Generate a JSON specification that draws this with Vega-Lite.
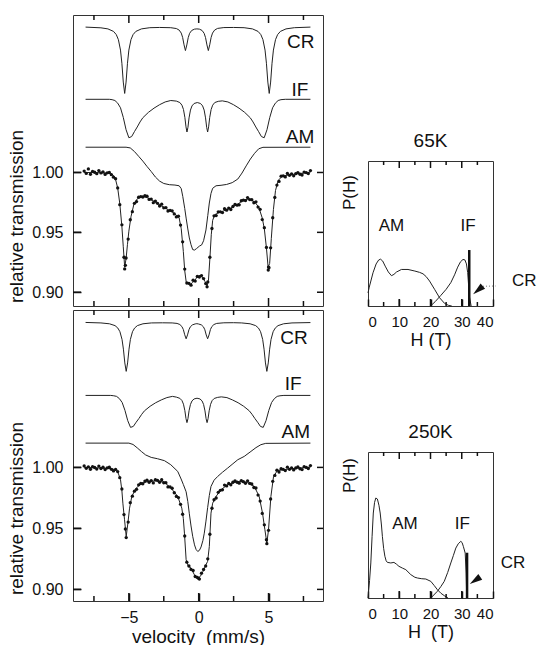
{
  "$schema": "https://vega.github.io/schema/vega-lite/v6.json",
  "padding": {"left": 7, "top": 13, "right": 0, "bottom": 0},
  "config": {
    "font": "Liberation Sans",
    "view": {"stroke": "#333", "strokeWidth": 1},
    "axis": {"grid": false, "domain": false, "ticks": true, "labelFontSize": 16, "titleFontSize": 19, "titleFontWeight": "normal", "labelColor": "#111", "titleColor": "#111", "tickColor": "#111", "tickOpacity": 1, "tickWidth": 1.5, "zindex": 1},
    "rule": {"color": "#111", "strokeWidth": 1.5},
    "title": {"fontSize": 19, "fontWeight": "normal", "color": "#111"}
  },
  "datasets": {
    "xmaj": [{"v":-5},{"v":0},{"v":5}],
    "xmin": [{"v":-7.5},{"v":-2.5},{"v":2.5},{"v":7.5}],
    "yt": [{"v":0.9},{"v":0.95},{"v":1.0}],
    "hmaj": [{"v":10},{"v":20},{"v":30}],
    "hmin": [{"v":5},{"v":15},{"v":25},{"v":35}],
    "c65": [
      {"k":"CR","x":-8.1,"y":1.1214},{"k":"CR","x":-7.0,"y":1.1208},{"k":"CR","x":-6.5,"y":1.1199},{"k":"CR","x":-6.1,"y":1.1178},{"k":"CR","x":-5.9,"y":1.1151},{"k":"CR","x":-5.75,"y":1.1109},{"k":"CR","x":-5.6,"y":1.1022},{"k":"CR","x":-5.5,"y":1.0912},{"k":"CR","x":-5.4,"y":1.0755},{"k":"CR","x":-5.3,"y":1.066},{"k":"CR","x":-5.2,"y":1.0755},{"k":"CR","x":-5.1,"y":1.0912},{"k":"CR","x":-5.0,"y":1.1022},{"k":"CR","x":-4.85,"y":1.1109},{"k":"CR","x":-4.7,"y":1.1151},{"k":"CR","x":-4.5,"y":1.1178},{"k":"CR","x":-4.1,"y":1.1199},{"k":"CR","x":-3.5,"y":1.1209},{"k":"CR","x":-2.8,"y":1.1211},{"k":"CR","x":-2.0,"y":1.1209},{"k":"CR","x":-1.6,"y":1.1202},{"k":"CR","x":-1.4,"y":1.1189},{"k":"CR","x":-1.25,"y":1.1164},{"k":"CR","x":-1.15,"y":1.1128},{"k":"CR","x":-1.05,"y":1.1066},{"k":"CR","x":-0.95,"y":1.1018},{"k":"CR","x":-0.85,"y":1.1065},{"k":"CR","x":-0.75,"y":1.1126},{"k":"CR","x":-0.65,"y":1.1162},{"k":"CR","x":-0.5,"y":1.1186},{"k":"CR","x":-0.3,"y":1.1197},{"k":"CR","x":-0.13,"y":1.1199},{"k":"CR","x":0.05,"y":1.1197},{"k":"CR","x":0.24,"y":1.1186},{"k":"CR","x":0.39,"y":1.1162},{"k":"CR","x":0.49,"y":1.1126},{"k":"CR","x":0.59,"y":1.1065},{"k":"CR","x":0.69,"y":1.1018},{"k":"CR","x":0.79,"y":1.1066},{"k":"CR","x":0.89,"y":1.1128},{"k":"CR","x":0.99,"y":1.1164},{"k":"CR","x":1.14,"y":1.1189},{"k":"CR","x":1.35,"y":1.1203},{"k":"CR","x":1.8,"y":1.121},{"k":"CR","x":2.5,"y":1.1211},{"k":"CR","x":3.25,"y":1.1209},{"k":"CR","x":3.85,"y":1.1199},{"k":"CR","x":4.25,"y":1.1178},{"k":"CR","x":4.45,"y":1.1151},{"k":"CR","x":4.6,"y":1.1109},{"k":"CR","x":4.75,"y":1.1022},{"k":"CR","x":4.85,"y":1.0912},{"k":"CR","x":4.95,"y":1.0755},{"k":"CR","x":5.05,"y":1.066},{"k":"CR","x":5.15,"y":1.0755},{"k":"CR","x":5.25,"y":1.0912},{"k":"CR","x":5.35,"y":1.1022},{"k":"CR","x":5.5,"y":1.1109},{"k":"CR","x":5.65,"y":1.1151},{"k":"CR","x":5.85,"y":1.1178},{"k":"CR","x":6.25,"y":1.1199},{"k":"CR","x":6.85,"y":1.1209},{"k":"CR","x":8.0,"y":1.1214},
      {"k":"IF","x":-8.1,"y":1.0611},{"k":"IF","x":-6.4,"y":1.0611},{"k":"IF","x":-6.2,"y":1.0608},{"k":"IF","x":-6.0,"y":1.0601},{"k":"IF","x":-5.8,"y":1.0579},{"k":"IF","x":-5.6,"y":1.054},{"k":"IF","x":-5.4,"y":1.046},{"k":"IF","x":-5.2,"y":1.0357},{"k":"IF","x":-5.0,"y":1.029},{"k":"IF","x":-4.8,"y":1.03},{"k":"IF","x":-4.6,"y":1.0341},{"k":"IF","x":-4.4,"y":1.038},{"k":"IF","x":-4.2,"y":1.0422},{"k":"IF","x":-4.0,"y":1.0457},{"k":"IF","x":-3.6,"y":1.0502},{"k":"IF","x":-3.2,"y":1.0537},{"k":"IF","x":-2.8,"y":1.0566},{"k":"IF","x":-2.4,"y":1.0589},{"k":"IF","x":-2.0,"y":1.0601},{"k":"IF","x":-1.6,"y":1.0596},{"k":"IF","x":-1.35,"y":1.0584},{"k":"IF","x":-1.2,"y":1.0562},{"k":"IF","x":-1.09,"y":1.0526},{"k":"IF","x":-0.99,"y":1.046},{"k":"IF","x":-0.91,"y":1.0381},{"k":"IF","x":-0.84,"y":1.0338},{"k":"IF","x":-0.77,"y":1.0377},{"k":"IF","x":-0.69,"y":1.0456},{"k":"IF","x":-0.59,"y":1.0521},{"k":"IF","x":-0.48,"y":1.0556},{"k":"IF","x":-0.33,"y":1.0576},{"k":"IF","x":-0.1,"y":1.0584},{"k":"IF","x":0.13,"y":1.0576},{"k":"IF","x":0.28,"y":1.0556},{"k":"IF","x":0.39,"y":1.0521},{"k":"IF","x":0.49,"y":1.0456},{"k":"IF","x":0.57,"y":1.0377},{"k":"IF","x":0.64,"y":1.0338},{"k":"IF","x":0.71,"y":1.0381},{"k":"IF","x":0.79,"y":1.046},{"k":"IF","x":0.89,"y":1.0526},{"k":"IF","x":1.0,"y":1.0562},{"k":"IF","x":1.15,"y":1.0584},{"k":"IF","x":1.4,"y":1.0594},{"k":"IF","x":1.69,"y":1.0598},{"k":"IF","x":2.09,"y":1.0589},{"k":"IF","x":2.49,"y":1.0566},{"k":"IF","x":2.89,"y":1.0537},{"k":"IF","x":3.29,"y":1.0502},{"k":"IF","x":3.69,"y":1.0457},{"k":"IF","x":3.89,"y":1.0422},{"k":"IF","x":4.09,"y":1.038},{"k":"IF","x":4.29,"y":1.0341},{"k":"IF","x":4.49,"y":1.03},{"k":"IF","x":4.69,"y":1.029},{"k":"IF","x":4.89,"y":1.0357},{"k":"IF","x":5.09,"y":1.046},{"k":"IF","x":5.29,"y":1.054},{"k":"IF","x":5.49,"y":1.0579},{"k":"IF","x":5.69,"y":1.0601},{"k":"IF","x":5.89,"y":1.0608},{"k":"IF","x":6.2,"y":1.0611},{"k":"IF","x":8.0,"y":1.0611},
      {"k":"AM","x":-8.1,"y":1.0211},{"k":"AM","x":-5.2,"y":1.0211},{"k":"AM","x":-4.9,"y":1.0205},{"k":"AM","x":-4.6,"y":1.0175},{"k":"AM","x":-4.3,"y":1.0135},{"k":"AM","x":-4.0,"y":1.0095},{"k":"AM","x":-3.7,"y":1.005},{"k":"AM","x":-3.4,"y":1.0008},{"k":"AM","x":-3.1,"y":0.9962},{"k":"AM","x":-2.8,"y":0.9928},{"k":"AM","x":-2.5,"y":0.9908},{"k":"AM","x":-2.1,"y":0.9898},{"k":"AM","x":-1.7,"y":0.9895},{"k":"AM","x":-1.4,"y":0.9889},{"k":"AM","x":-1.25,"y":0.9865},{"k":"AM","x":-1.14,"y":0.98},{"k":"AM","x":-1.0,"y":0.97},{"k":"AM","x":-0.9,"y":0.9619},{"k":"AM","x":-0.79,"y":0.9536},{"k":"AM","x":-0.67,"y":0.9453},{"k":"AM","x":-0.55,"y":0.9397},{"k":"AM","x":-0.43,"y":0.9356},{"k":"AM","x":-0.3,"y":0.9352},{"k":"AM","x":-0.15,"y":0.9365},{"k":"AM","x":0.05,"y":0.9385},{"k":"AM","x":0.21,"y":0.9395},{"k":"AM","x":0.35,"y":0.943},{"k":"AM","x":0.52,"y":0.952},{"k":"AM","x":0.65,"y":0.964},{"k":"AM","x":0.76,"y":0.9745},{"k":"AM","x":0.88,"y":0.9825},{"k":"AM","x":1.0,"y":0.9868},{"k":"AM","x":1.24,"y":0.9889},{"k":"AM","x":1.6,"y":0.9893},{"k":"AM","x":2.0,"y":0.99},{"k":"AM","x":2.4,"y":0.9915},{"k":"AM","x":2.8,"y":0.9945},{"k":"AM","x":3.1,"y":0.9995},{"k":"AM","x":3.4,"y":1.0055},{"k":"AM","x":3.7,"y":1.0112},{"k":"AM","x":4.0,"y":1.016},{"k":"AM","x":4.3,"y":1.0198},{"k":"AM","x":4.6,"y":1.021},{"k":"AM","x":8.0,"y":1.0211}
    ],
    "f65": [
      {"x":-8.2,"y":1.0},{"x":-7.0,"y":0.9998},{"x":-6.6,"y":0.9995},{"x":-6.3,"y":0.9992},{"x":-6.1,"y":0.9975},{"x":-5.95,"y":0.994},{"x":-5.8,"y":0.987},{"x":-5.65,"y":0.974},{"x":-5.5,"y":0.955},{"x":-5.4,"y":0.938},{"x":-5.3,"y":0.921},{"x":-5.2,"y":0.928},{"x":-5.1,"y":0.94},{"x":-5.0,"y":0.951},{"x":-4.85,"y":0.963},{"x":-4.65,"y":0.973},{"x":-4.4,"y":0.978},{"x":-4.0,"y":0.98},{"x":-3.6,"y":0.9786},{"x":-3.2,"y":0.976},{"x":-2.7,"y":0.9722},{"x":-2.2,"y":0.969},{"x":-1.75,"y":0.966},{"x":-1.4,"y":0.962},{"x":-1.25,"y":0.953},{"x":-1.1,"y":0.934},{"x":-1.0,"y":0.918},{"x":-0.9,"y":0.909},{"x":-0.75,"y":0.907},{"x":-0.6,"y":0.9065},{"x":-0.45,"y":0.908},{"x":-0.3,"y":0.9095},{"x":-0.1,"y":0.913},{"x":0.1,"y":0.914},{"x":0.3,"y":0.912},{"x":0.45,"y":0.909},{"x":0.6,"y":0.905},{"x":0.7,"y":0.91},{"x":0.8,"y":0.928},{"x":0.9,"y":0.948},{"x":1.0,"y":0.96},{"x":1.15,"y":0.9648},{"x":1.4,"y":0.9662},{"x":1.8,"y":0.968},{"x":2.3,"y":0.9703},{"x":2.8,"y":0.9736},{"x":3.25,"y":0.9772},{"x":3.6,"y":0.9778},{"x":4.0,"y":0.9755},{"x":4.3,"y":0.971},{"x":4.55,"y":0.962},{"x":4.7,"y":0.953},{"x":4.85,"y":0.937},{"x":4.97,"y":0.921},{"x":5.08,"y":0.924},{"x":5.2,"y":0.945},{"x":5.35,"y":0.969},{"x":5.5,"y":0.985},{"x":5.7,"y":0.9935},{"x":6.0,"y":0.997},{"x":6.5,"y":0.998},{"x":7.0,"y":0.9988},{"x":7.5,"y":0.9995},{"x":8.0,"y":1.0003}
    ],
    "o65": [
      {"x":-8.2,"y":1.0012},{"x":-8.05,"y":0.9992},{"x":-7.9,"y":1.003},{"x":-7.75,"y":0.9985},{"x":-7.6,"y":1.0009},{"x":-7.45,"y":1.0002},{"x":-7.3,"y":0.999},{"x":-7.15,"y":1.0016},{"x":-7.0,"y":0.9996},{"x":-6.85,"y":1.0005},{"x":-6.7,"y":0.9984},{"x":-6.55,"y":0.9997},{"x":-6.4,"y":1.0},{"x":-6.25,"y":0.9982},{"x":-6.1,"y":0.9961},{"x":-5.95,"y":0.9948},{"x":-5.8,"y":0.9871},{"x":-5.65,"y":0.9731},{"x":-5.5,"y":0.9563},{"x":-5.35,"y":0.9292},{"x":-5.3,"y":0.9195},{"x":-5.25,"y":0.9225},{"x":-5.2,"y":0.9286},{"x":-5.05,"y":0.9444},{"x":-4.9,"y":0.9605},{"x":-4.75,"y":0.9673},{"x":-4.6,"y":0.9742},{"x":-4.45,"y":0.9757},{"x":-4.3,"y":0.9794},{"x":-4.15,"y":0.9799},{"x":-4.0,"y":0.9795},{"x":-3.85,"y":0.9806},{"x":-3.7,"y":0.9802},{"x":-3.55,"y":0.9775},{"x":-3.4,"y":0.9778},{"x":-3.25,"y":0.9748},{"x":-3.1,"y":0.9761},{"x":-2.95,"y":0.9742},{"x":-2.8,"y":0.972},{"x":-2.65,"y":0.9735},{"x":-2.5,"y":0.9705},{"x":-2.35,"y":0.9707},{"x":-2.2,"y":0.9678},{"x":-2.05,"y":0.9683},{"x":-1.9,"y":0.968},{"x":-1.75,"y":0.9654},{"x":-1.6,"y":0.9629},{"x":-1.45,"y":0.9635},{"x":-1.3,"y":0.9561},{"x":-1.15,"y":0.9421},{"x":-1.0,"y":0.9193},{"x":-0.85,"y":0.9077},{"x":-0.7,"y":0.9074},{"x":-0.55,"y":0.9059},{"x":-0.4,"y":0.91},{"x":-0.25,"y":0.9093},{"x":-0.1,"y":0.9132},{"x":0.05,"y":0.9127},{"x":0.2,"y":0.9139},{"x":0.35,"y":0.9114},{"x":0.5,"y":0.9072},{"x":0.6,"y":0.9045},{"x":0.65,"y":0.9086},{"x":0.8,"y":0.9292},{"x":0.95,"y":0.9532},{"x":1.1,"y":0.9638},{"x":1.25,"y":0.964},{"x":1.4,"y":0.9671},{"x":1.55,"y":0.9671},{"x":1.7,"y":0.9665},{"x":1.85,"y":0.9698},{"x":2.0,"y":0.9685},{"x":2.15,"y":0.9703},{"x":2.3,"y":0.9691},{"x":2.45,"y":0.9716},{"x":2.6,"y":0.9733},{"x":2.75,"y":0.9727},{"x":2.9,"y":0.973},{"x":3.05,"y":0.9764},{"x":3.2,"y":0.9769},{"x":3.35,"y":0.9765},{"x":3.5,"y":0.979},{"x":3.65,"y":0.9774},{"x":3.8,"y":0.9773},{"x":3.95,"y":0.9747},{"x":4.1,"y":0.9755},{"x":4.25,"y":0.9711},{"x":4.4,"y":0.9692},{"x":4.55,"y":0.9607},{"x":4.7,"y":0.9539},{"x":4.85,"y":0.9374},{"x":4.98,"y":0.9185},{"x":5.0,"y":0.921},{"x":5.03,"y":0.9205},{"x":5.15,"y":0.9371},{"x":5.3,"y":0.9622},{"x":5.45,"y":0.9792},{"x":5.6,"y":0.9895},{"x":5.75,"y":0.9925},{"x":5.9,"y":0.9969},{"x":6.05,"y":0.9972},{"x":6.2,"y":0.9963},{"x":6.35,"y":0.9992},{"x":6.5,"y":0.9976},{"x":6.65,"y":0.9989},{"x":6.8,"y":0.9972},{"x":6.95,"y":0.999},{"x":7.1,"y":0.9999},{"x":7.25,"y":0.9985},{"x":7.4,"y":0.9979},{"x":7.55,"y":1.0003},{"x":7.7,"y":0.9999},{"x":7.85,"y":0.9991},{"x":8.0,"y":1.0016}
    ],
    "t65": [
      {"t":"CR","x":7.3,"y":1.109},{"t":"IF","x":7.25,"y":1.069},{"t":"AM","x":7.25,"y":1.03}
    ],
    "c250": [
      {"k":"CR","x":-8.1,"y":1.1188},{"k":"CR","x":-7.0,"y":1.1184},{"k":"CR","x":-6.39,"y":1.1177},{"k":"CR","x":-5.99,"y":1.1162},{"k":"CR","x":-5.79,"y":1.1142},{"k":"CR","x":-5.64,"y":1.1112},{"k":"CR","x":-5.49,"y":1.1049},{"k":"CR","x":-5.39,"y":1.0969},{"k":"CR","x":-5.29,"y":1.0856},{"k":"CR","x":-5.19,"y":1.0787},{"k":"CR","x":-5.09,"y":1.0856},{"k":"CR","x":-4.99,"y":1.0969},{"k":"CR","x":-4.89,"y":1.1049},{"k":"CR","x":-4.74,"y":1.1112},{"k":"CR","x":-4.59,"y":1.1142},{"k":"CR","x":-4.39,"y":1.1162},{"k":"CR","x":-3.99,"y":1.1177},{"k":"CR","x":-3.39,"y":1.1184},{"k":"CR","x":-2.6,"y":1.1185},{"k":"CR","x":-1.9,"y":1.1184},{"k":"CR","x":-1.55,"y":1.118},{"k":"CR","x":-1.35,"y":1.1171},{"k":"CR","x":-1.2,"y":1.1154},{"k":"CR","x":-1.1,"y":1.113},{"k":"CR","x":-1.0,"y":1.1087},{"k":"CR","x":-0.9,"y":1.1054},{"k":"CR","x":-0.8,"y":1.1086},{"k":"CR","x":-0.7,"y":1.1128},{"k":"CR","x":-0.6,"y":1.1152},{"k":"CR","x":-0.45,"y":1.1168},{"k":"CR","x":-0.25,"y":1.1176},{"k":"CR","x":-0.13,"y":1.1178},{"k":"CR","x":0.0,"y":1.1175},{"k":"CR","x":0.19,"y":1.1168},{"k":"CR","x":0.34,"y":1.1152},{"k":"CR","x":0.44,"y":1.1128},{"k":"CR","x":0.54,"y":1.1085},{"k":"CR","x":0.64,"y":1.1054},{"k":"CR","x":0.74,"y":1.1086},{"k":"CR","x":0.84,"y":1.113},{"k":"CR","x":0.94,"y":1.1154},{"k":"CR","x":1.09,"y":1.1171},{"k":"CR","x":1.29,"y":1.118},{"k":"CR","x":1.8,"y":1.1185},{"k":"CR","x":2.5,"y":1.1186},{"k":"CR","x":3.08,"y":1.1184},{"k":"CR","x":3.68,"y":1.1177},{"k":"CR","x":4.08,"y":1.1162},{"k":"CR","x":4.28,"y":1.1142},{"k":"CR","x":4.43,"y":1.1112},{"k":"CR","x":4.58,"y":1.1049},{"k":"CR","x":4.68,"y":1.0969},{"k":"CR","x":4.78,"y":1.0856},{"k":"CR","x":4.88,"y":1.0787},{"k":"CR","x":4.98,"y":1.0856},{"k":"CR","x":5.08,"y":1.0969},{"k":"CR","x":5.18,"y":1.1049},{"k":"CR","x":5.33,"y":1.1112},{"k":"CR","x":5.48,"y":1.1142},{"k":"CR","x":5.68,"y":1.1162},{"k":"CR","x":6.08,"y":1.1177},{"k":"CR","x":6.68,"y":1.1184},{"k":"CR","x":8.0,"y":1.1187},
      {"k":"IF","x":-8.1,"y":1.059},{"k":"IF","x":-6.3,"y":1.059},{"k":"IF","x":-6.08,"y":1.0587},{"k":"IF","x":-5.88,"y":1.0582},{"k":"IF","x":-5.68,"y":1.0564},{"k":"IF","x":-5.48,"y":1.0532},{"k":"IF","x":-5.28,"y":1.0467},{"k":"IF","x":-5.08,"y":1.0383},{"k":"IF","x":-4.88,"y":1.0328},{"k":"IF","x":-4.68,"y":1.0336},{"k":"IF","x":-4.48,"y":1.037},{"k":"IF","x":-4.28,"y":1.0401},{"k":"IF","x":-4.08,"y":1.0435},{"k":"IF","x":-3.88,"y":1.0464},{"k":"IF","x":-3.48,"y":1.0501},{"k":"IF","x":-3.08,"y":1.053},{"k":"IF","x":-2.68,"y":1.0553},{"k":"IF","x":-2.28,"y":1.0572},{"k":"IF","x":-1.88,"y":1.0582},{"k":"IF","x":-1.6,"y":1.0576},{"k":"IF","x":-1.35,"y":1.0566},{"k":"IF","x":-1.2,"y":1.0548},{"k":"IF","x":-1.09,"y":1.0518},{"k":"IF","x":-0.99,"y":1.0465},{"k":"IF","x":-0.91,"y":1.04},{"k":"IF","x":-0.84,"y":1.0367},{"k":"IF","x":-0.77,"y":1.0399},{"k":"IF","x":-0.69,"y":1.0464},{"k":"IF","x":-0.59,"y":1.0516},{"k":"IF","x":-0.48,"y":1.0545},{"k":"IF","x":-0.33,"y":1.0561},{"k":"IF","x":-0.12,"y":1.0567},{"k":"IF","x":0.09,"y":1.0561},{"k":"IF","x":0.24,"y":1.0545},{"k":"IF","x":0.35,"y":1.0516},{"k":"IF","x":0.45,"y":1.0463},{"k":"IF","x":0.53,"y":1.0399},{"k":"IF","x":0.6,"y":1.0367},{"k":"IF","x":0.67,"y":1.0399},{"k":"IF","x":0.75,"y":1.0464},{"k":"IF","x":0.85,"y":1.0517},{"k":"IF","x":0.96,"y":1.0547},{"k":"IF","x":1.11,"y":1.0565},{"k":"IF","x":1.36,"y":1.0574},{"k":"IF","x":1.62,"y":1.0578},{"k":"IF","x":2.02,"y":1.0572},{"k":"IF","x":2.42,"y":1.0553},{"k":"IF","x":2.82,"y":1.053},{"k":"IF","x":3.22,"y":1.0501},{"k":"IF","x":3.62,"y":1.0464},{"k":"IF","x":3.82,"y":1.0435},{"k":"IF","x":4.02,"y":1.0401},{"k":"IF","x":4.22,"y":1.037},{"k":"IF","x":4.42,"y":1.0336},{"k":"IF","x":4.62,"y":1.0328},{"k":"IF","x":4.82,"y":1.0383},{"k":"IF","x":5.02,"y":1.0467},{"k":"IF","x":5.22,"y":1.0532},{"k":"IF","x":5.42,"y":1.0564},{"k":"IF","x":5.62,"y":1.0582},{"k":"IF","x":5.82,"y":1.0587},{"k":"IF","x":6.1,"y":1.059},{"k":"IF","x":8.0,"y":1.059},
      {"k":"AM","x":-8.1,"y":1.0199},{"k":"AM","x":-5.0,"y":1.0199},{"k":"AM","x":-4.7,"y":1.0188},{"k":"AM","x":-4.4,"y":1.016},{"k":"AM","x":-4.1,"y":1.013},{"k":"AM","x":-3.8,"y":1.0102},{"k":"AM","x":-3.4,"y":1.0082},{"k":"AM","x":-2.95,"y":1.0071},{"k":"AM","x":-2.45,"y":1.0055},{"k":"AM","x":-2.0,"y":1.0022},{"k":"AM","x":-1.5,"y":0.9967},{"k":"AM","x":-1.26,"y":0.9905},{"k":"AM","x":-1.1,"y":0.986},{"k":"AM","x":-0.9,"y":0.98},{"k":"AM","x":-0.78,"y":0.972},{"k":"AM","x":-0.67,"y":0.962},{"k":"AM","x":-0.55,"y":0.952},{"k":"AM","x":-0.43,"y":0.9435},{"k":"AM","x":-0.3,"y":0.9365},{"k":"AM","x":-0.19,"y":0.9328},{"k":"AM","x":-0.07,"y":0.9311},{"k":"AM","x":0.05,"y":0.932},{"k":"AM","x":0.17,"y":0.9348},{"k":"AM","x":0.3,"y":0.94},{"k":"AM","x":0.4,"y":0.9461},{"k":"AM","x":0.52,"y":0.956},{"k":"AM","x":0.64,"y":0.967},{"k":"AM","x":0.76,"y":0.977},{"k":"AM","x":0.88,"y":0.9844},{"k":"AM","x":1.1,"y":0.9895},{"k":"AM","x":1.36,"y":0.9926},{"k":"AM","x":1.7,"y":0.996},{"k":"AM","x":2.07,"y":0.9994},{"k":"AM","x":2.45,"y":1.003},{"k":"AM","x":2.8,"y":1.0063},{"k":"AM","x":3.26,"y":1.009},{"k":"AM","x":3.74,"y":1.0131},{"k":"AM","x":4.1,"y":1.0162},{"k":"AM","x":4.45,"y":1.0186},{"k":"AM","x":4.8,"y":1.0197},{"k":"AM","x":8.0,"y":1.0199}
    ],
    "f250": [
      {"x":-8.2,"y":1.0},{"x":-7.0,"y":0.9995},{"x":-6.2,"y":0.999},{"x":-6.0,"y":0.998},{"x":-5.8,"y":0.9965},{"x":-5.6,"y":0.99},{"x":-5.5,"y":0.981},{"x":-5.43,"y":0.9707},{"x":-5.31,"y":0.9571},{"x":-5.19,"y":0.9434},{"x":-5.07,"y":0.9543},{"x":-4.95,"y":0.9666},{"x":-4.79,"y":0.9762},{"x":-4.48,"y":0.983},{"x":-4.12,"y":0.9866},{"x":-3.64,"y":0.9885},{"x":-2.93,"y":0.9891},{"x":-2.45,"y":0.9877},{"x":-1.98,"y":0.983},{"x":-1.5,"y":0.9762},{"x":-1.21,"y":0.9666},{"x":-1.1,"y":0.958},{"x":-1.02,"y":0.9461},{"x":-0.9,"y":0.9243},{"x":-0.74,"y":0.9189},{"x":-0.55,"y":0.9175},{"x":-0.31,"y":0.912},{"x":-0.07,"y":0.9093},{"x":0.12,"y":0.9107},{"x":0.31,"y":0.9148},{"x":0.52,"y":0.9202},{"x":0.64,"y":0.923},{"x":0.76,"y":0.9352},{"x":0.88,"y":0.9625},{"x":1.0,"y":0.9707},{"x":1.24,"y":0.9762},{"x":1.6,"y":0.9817},{"x":2.07,"y":0.9858},{"x":2.79,"y":0.9885},{"x":3.5,"y":0.9877},{"x":3.98,"y":0.9844},{"x":4.33,"y":0.9762},{"x":4.57,"y":0.9625},{"x":4.74,"y":0.9489},{"x":4.88,"y":0.938},{"x":5.0,"y":0.9489},{"x":5.17,"y":0.9762},{"x":5.36,"y":0.9926},{"x":5.64,"y":0.9975},{"x":6.6,"y":0.9989},{"x":8.0,"y":1.0002}
    ],
    "o250": [
      {"x":-8.2,"y":1.0012},{"x":-8.05,"y":0.9992},{"x":-7.9,"y":1.0005},{"x":-7.75,"y":0.9985},{"x":-7.6,"y":1.0006},{"x":-7.45,"y":0.9999},{"x":-7.3,"y":0.9986},{"x":-7.15,"y":1.0011},{"x":-7.0,"y":0.9991},{"x":-6.85,"y":1.0001},{"x":-6.7,"y":0.9982},{"x":-6.55,"y":0.9996},{"x":-6.4,"y":1.0002},{"x":-6.25,"y":0.9984},{"x":-6.1,"y":0.9971},{"x":-5.95,"y":0.9984},{"x":-5.8,"y":0.9966},{"x":-5.65,"y":0.9916},{"x":-5.5,"y":0.9823},{"x":-5.35,"y":0.9613},{"x":-5.25,"y":0.9495},{"x":-5.19,"y":0.9425},{"x":-5.05,"y":0.9552},{"x":-4.9,"y":0.9711},{"x":-4.75,"y":0.9764},{"x":-4.6,"y":0.9805},{"x":-4.45,"y":0.982},{"x":-4.3,"y":0.9857},{"x":-4.15,"y":0.9868},{"x":-4.0,"y":0.9866},{"x":-3.85,"y":0.9888},{"x":-3.7,"y":0.9895},{"x":-3.55,"y":0.9878},{"x":-3.4,"y":0.9892},{"x":-3.25,"y":0.9873},{"x":-3.1,"y":0.9899},{"x":-2.95,"y":0.9893},{"x":-2.8,"y":0.9878},{"x":-2.65,"y":0.9899},{"x":-2.5,"y":0.9874},{"x":-2.35,"y":0.9875},{"x":-2.2,"y":0.984},{"x":-2.05,"y":0.984},{"x":-1.9,"y":0.9829},{"x":-1.75,"y":0.9792},{"x":-1.6,"y":0.9762},{"x":-1.45,"y":0.9753},{"x":-1.3,"y":0.9697},{"x":-1.15,"y":0.9616},{"x":-1.0,"y":0.9438},{"x":-0.85,"y":0.9223},{"x":-0.7,"y":0.9192},{"x":-0.55,"y":0.9164},{"x":-0.4,"y":0.9155},{"x":-0.25,"y":0.9106},{"x":-0.1,"y":0.9098},{"x":0.0,"y":0.909},{"x":0.05,"y":0.9085},{"x":0.2,"y":0.9133},{"x":0.35,"y":0.9163},{"x":0.5,"y":0.9192},{"x":0.65,"y":0.9251},{"x":0.8,"y":0.9452},{"x":0.95,"y":0.9665},{"x":1.1,"y":0.9735},{"x":1.25,"y":0.9749},{"x":1.4,"y":0.9796},{"x":1.55,"y":0.9812},{"x":1.7,"y":0.9816},{"x":1.85,"y":0.9855},{"x":2.0,"y":0.9848},{"x":2.15,"y":0.9868},{"x":2.3,"y":0.9857},{"x":2.45,"y":0.9878},{"x":2.6,"y":0.989},{"x":2.75,"y":0.9878},{"x":2.9,"y":0.9871},{"x":3.05,"y":0.9892},{"x":3.2,"y":0.9883},{"x":3.35,"y":0.987},{"x":3.5,"y":0.989},{"x":3.65,"y":0.9869},{"x":3.8,"y":0.9864},{"x":3.95,"y":0.9835},{"x":4.1,"y":0.9831},{"x":4.25,"y":0.9773},{"x":4.4,"y":0.9724},{"x":4.55,"y":0.9623},{"x":4.7,"y":0.9529},{"x":4.85,"y":0.9407},{"x":4.88,"y":0.9375},{"x":5.0,"y":0.9484},{"x":5.15,"y":0.9741},{"x":5.3,"y":0.9886},{"x":5.45,"y":0.9934},{"x":5.6,"y":0.9977},{"x":5.75,"y":0.9962},{"x":5.9,"y":0.9989},{"x":6.05,"y":0.9984},{"x":6.2,"y":0.9974},{"x":6.35,"y":1.0002},{"x":6.5,"y":0.9984},{"x":6.65,"y":0.9996},{"x":6.8,"y":0.9979},{"x":6.95,"y":0.9995},{"x":7.1,"y":1.0004},{"x":7.25,"y":0.9989},{"x":7.4,"y":0.9982},{"x":7.55,"y":1.0006},{"x":7.7,"y":1.0},{"x":7.85,"y":0.9991},{"x":8.0,"y":1.0015}
    ],
    "t250": [
      {"t":"CR","x":6.83,"y":1.106},{"t":"IF","x":6.77,"y":1.0686},{"t":"AM","x":6.95,"y":1.0287}
    ],
    "p65": [
      {"k":"AM","h":0,"p":0.09},{"k":"AM","h":0.4,"p":0.13},{"k":"AM","h":1.6,"p":0.229},{"k":"AM","h":2.6,"p":0.29},{"k":"AM","h":3.4,"p":0.317},{"k":"AM","h":4.0,"p":0.323},{"k":"AM","h":4.7,"p":0.31},{"k":"AM","h":5.5,"p":0.275},{"k":"AM","h":6.5,"p":0.235},{"k":"AM","h":7.5,"p":0.209},{"k":"AM","h":8.3,"p":0.218},{"k":"AM","h":9.1,"p":0.234},{"k":"AM","h":10.7,"p":0.252},{"k":"AM","h":12.8,"p":0.252},{"k":"AM","h":15.0,"p":0.241},{"k":"AM","h":16.5,"p":0.232},{"k":"AM","h":17.6,"p":0.222},{"k":"AM","h":18.6,"p":0.203},{"k":"AM","h":19.7,"p":0.172},{"k":"AM","h":21.3,"p":0.115},{"k":"AM","h":22.9,"p":0.057},{"k":"AM","h":24.5,"p":0.018},{"k":"AM","h":25.8,"p":0.004},{"k":"AM","h":26.8,"p":0},
      {"k":"IF","h":20.0,"p":0},{"k":"IF","h":21.5,"p":0.03},{"k":"IF","h":23.3,"p":0.073},{"k":"IF","h":25.0,"p":0.115},{"k":"IF","h":26.5,"p":0.161},{"k":"IF","h":27.7,"p":0.215},{"k":"IF","h":28.7,"p":0.268},{"k":"IF","h":29.6,"p":0.305},{"k":"IF","h":30.4,"p":0.321},{"k":"IF","h":31.0,"p":0.318},{"k":"IF","h":31.5,"p":0.29},{"k":"IF","h":31.9,"p":0.23},{"k":"IF","h":32.2,"p":0.14},{"k":"IF","h":32.5,"p":0.06},{"k":"IF","h":33.0,"p":0}
    ],
    "cr65": [{"h":32.4,"p":0.386}],
    "arrow65": [{"h":35.2,"p":0.109}],
    "lead65": [{"h":36.8,"p":0.136},{"h":40.8,"p":0.138}],
    "lab65": [{"t":"AM","h":7.5,"p":0.552},{"t":"IF","h":32,"p":0.552},{"t":"CR","h":50,"p":0.174}],
    "p250": [
      {"k":"AM","h":0,"p":0},{"k":"AM","h":0.5,"p":0.12},{"k":"AM","h":0.9,"p":0.24},{"k":"AM","h":1.3,"p":0.42},{"k":"AM","h":1.7,"p":0.582},{"k":"AM","h":2.1,"p":0.655},{"k":"AM","h":2.5,"p":0.685},{"k":"AM","h":3.0,"p":0.678},{"k":"AM","h":3.5,"p":0.635},{"k":"AM","h":3.9,"p":0.582},{"k":"AM","h":4.3,"p":0.5},{"k":"AM","h":4.6,"p":0.422},{"k":"AM","h":5.0,"p":0.34},{"k":"AM","h":5.4,"p":0.286},{"k":"AM","h":5.8,"p":0.255},{"k":"AM","h":6.2,"p":0.244},{"k":"AM","h":7.3,"p":0.24},{"k":"AM","h":8.3,"p":0.244},{"k":"AM","h":9.1,"p":0.232},{"k":"AM","h":9.9,"p":0.217},{"k":"AM","h":11.0,"p":0.205},{"k":"AM","h":12.1,"p":0.194},{"k":"AM","h":13.7,"p":0.16},{"k":"AM","h":15.0,"p":0.142},{"k":"AM","h":15.8,"p":0.137},{"k":"AM","h":17.2,"p":0.132},{"k":"AM","h":18.5,"p":0.13},{"k":"AM","h":20.1,"p":0.114},{"k":"AM","h":21.2,"p":0.085},{"k":"AM","h":22.2,"p":0.057},{"k":"AM","h":23.3,"p":0.033},{"k":"AM","h":24.4,"p":0.016},{"k":"AM","h":25.6,"p":0},
      {"k":"IF","h":20.1,"p":0},{"k":"IF","h":22.2,"p":0.046},{"k":"IF","h":23.3,"p":0.078},{"k":"IF","h":24.4,"p":0.114},{"k":"IF","h":25.5,"p":0.175},{"k":"IF","h":26.5,"p":0.24},{"k":"IF","h":27.3,"p":0.29},{"k":"IF","h":28.1,"p":0.342},{"k":"IF","h":28.9,"p":0.372},{"k":"IF","h":29.7,"p":0.388},{"k":"IF","h":30.1,"p":0.38},{"k":"IF","h":30.5,"p":0.354},{"k":"IF","h":31.1,"p":0.308},{"k":"IF","h":31.4,"p":0.171},{"k":"IF","h":31.6,"p":0}
    ],
    "cr250": [{"h":31.7,"p":0.31}],
    "arrow250": [{"h":34.25,"p":0.12}],
    "lab250": [{"t":"AM","h":11.8,"p":0.504},{"t":"IF","h":30.2,"p":0.504},{"t":"CR","h":46.4,"p":0.24}]
  },
  "hconcat": [
    {
      "spacing": 0,
      "vconcat": [
        {
          "width": 250, "height": 291,
          "layer": [
            {
              "data": {"name": "c65"},
              "mark": {"type": "line", "stroke": "#222", "strokeWidth": 1},
              "encoding": {
                "x": {"field": "x", "type": "quantitative", "scale": {"domain": [-9, 8.9], "nice": false, "zero": false}, "axis": null},
                "y": {"field": "y", "type": "quantitative", "scale": {"domain": [0.8885, 1.1315], "nice": false, "zero": false},
                      "axis": {"orient": "left", "values": [0.9, 0.95, 1.0], "format": ".2f", "tickSize": 8, "offset": -8, "labelPadding": 10, "title": "relative transmission", "titleY": 201, "titlePadding": 5}},
                "detail": {"field": "k", "type": "nominal"}
              }
            },
            {
              "data": {"name": "f65"},
              "mark": {"type": "line", "stroke": "#222", "strokeWidth": 1},
              "encoding": {
                "x": {"field": "x", "type": "quantitative", "axis": null},
                "y": {"field": "y", "type": "quantitative", "axis": null}
              }
            },
            {
              "data": {"name": "o65"},
              "mark": {"type": "point", "filled": true, "size": 11, "color": "#111", "opacity": 1},
              "encoding": {
                "x": {"field": "x", "type": "quantitative", "axis": null},
                "y": {"field": "y", "type": "quantitative", "axis": null}
              }
            },
            {
              "data": {"name": "t65"},
              "mark": {"type": "text", "fontSize": 19, "color": "#111", "align": "center", "baseline": "middle"},
              "encoding": {
                "x": {"field": "x", "type": "quantitative", "axis": null},
                "y": {"field": "y", "type": "quantitative", "axis": null},
                "text": {"field": "t", "type": "nominal"}
              }
            },
            {
              "data": {"name": "xmaj"},
              "mark": {"type": "rule", "y2Offset": 8},
              "encoding": {"x": {"field": "v", "type": "quantitative", "axis": null}, "y": {"datum": 1.1315, "type": "quantitative", "axis": null}, "y2": {"datum": 1.1315}}
            },
            {
              "data": {"name": "xmaj"},
              "mark": {"type": "rule", "y2Offset": -8},
              "encoding": {"x": {"field": "v", "type": "quantitative", "axis": null}, "y": {"datum": 0.8885, "type": "quantitative", "axis": null}, "y2": {"datum": 0.8885}}
            },
            {
              "data": {"name": "xmin"},
              "mark": {"type": "rule", "y2Offset": 5},
              "encoding": {"x": {"field": "v", "type": "quantitative", "axis": null}, "y": {"datum": 1.1315, "type": "quantitative", "axis": null}, "y2": {"datum": 1.1315}}
            },
            {
              "data": {"name": "xmin"},
              "mark": {"type": "rule", "y2Offset": -5},
              "encoding": {"x": {"field": "v", "type": "quantitative", "axis": null}, "y": {"datum": 0.8885, "type": "quantitative", "axis": null}, "y2": {"datum": 0.8885}}
            },
            {
              "data": {"name": "yt"},
              "mark": {"type": "rule", "x2Offset": 8},
              "encoding": {"y": {"field": "v", "type": "quantitative", "axis": null}, "x": {"datum": -9, "type": "quantitative", "axis": null}, "x2": {"datum": -9}}
            },
            {
              "data": {"name": "yt"},
              "mark": {"type": "rule", "x2Offset": -6},
              "encoding": {"y": {"field": "v", "type": "quantitative", "axis": null}, "x": {"datum": 8.9, "type": "quantitative", "axis": null}, "x2": {"datum": 8.9}}
            }
          ],
          "resolve": {"axis": {"x": "independent", "y": "independent"}}
        },
        {
          "width": 250, "height": 291,
          "layer": [
            {
              "data": {"name": "c250"},
              "mark": {"type": "line", "stroke": "#222", "strokeWidth": 1},
              "encoding": {
                "x": {"field": "x", "type": "quantitative", "scale": {"domain": [-9, 8.9], "nice": false, "zero": false},
                      "axis": {"orient": "bottom", "values": [-5, 0, 5], "tickSize": 8, "offset": -8, "labelPadding": 8, "title": "velocity\u00a0 (mm/s)", "titlePadding": 2}},
                "y": {"field": "y", "type": "quantitative", "scale": {"domain": [0.8905, 1.129], "nice": false, "zero": false},
                      "axis": {"orient": "left", "values": [0.9, 0.95, 1.0], "format": ".2f", "tickSize": 8, "offset": -8, "labelPadding": 10, "title": "relative transmission", "titleY": 198, "titlePadding": 5}},
                "detail": {"field": "k", "type": "nominal"}
              }
            },
            {
              "data": {"name": "f250"},
              "mark": {"type": "line", "stroke": "#222", "strokeWidth": 1},
              "encoding": {
                "x": {"field": "x", "type": "quantitative", "axis": null},
                "y": {"field": "y", "type": "quantitative", "axis": null}
              }
            },
            {
              "data": {"name": "o250"},
              "mark": {"type": "point", "filled": true, "size": 11, "color": "#111", "opacity": 1},
              "encoding": {
                "x": {"field": "x", "type": "quantitative", "axis": null},
                "y": {"field": "y", "type": "quantitative", "axis": null}
              }
            },
            {
              "data": {"name": "t250"},
              "mark": {"type": "text", "fontSize": 19, "color": "#111", "align": "center", "baseline": "middle"},
              "encoding": {
                "x": {"field": "x", "type": "quantitative", "axis": null},
                "y": {"field": "y", "type": "quantitative", "axis": null},
                "text": {"field": "t", "type": "nominal"}
              }
            },
            {
              "data": {"name": "xmaj"},
              "mark": {"type": "rule", "y2Offset": 8},
              "encoding": {"x": {"field": "v", "type": "quantitative", "axis": null}, "y": {"datum": 1.129, "type": "quantitative", "axis": null}, "y2": {"datum": 1.129}}
            },
            {
              "data": {"name": "xmaj"},
              "mark": {"type": "rule", "y2Offset": -8},
              "encoding": {"x": {"field": "v", "type": "quantitative", "axis": null}, "y": {"datum": 0.8905, "type": "quantitative", "axis": null}, "y2": {"datum": 0.8905}}
            },
            {
              "data": {"name": "xmin"},
              "mark": {"type": "rule", "y2Offset": 5},
              "encoding": {"x": {"field": "v", "type": "quantitative", "axis": null}, "y": {"datum": 1.129, "type": "quantitative", "axis": null}, "y2": {"datum": 1.129}}
            },
            {
              "data": {"name": "xmin"},
              "mark": {"type": "rule", "y2Offset": -5},
              "encoding": {"x": {"field": "v", "type": "quantitative", "axis": null}, "y": {"datum": 0.8905, "type": "quantitative", "axis": null}, "y2": {"datum": 0.8905}}
            },
            {
              "data": {"name": "yt"},
              "mark": {"type": "rule", "x2Offset": 8},
              "encoding": {"y": {"field": "v", "type": "quantitative", "axis": null}, "x": {"datum": -9, "type": "quantitative", "axis": null}, "x2": {"datum": -9}}
            },
            {
              "data": {"name": "yt"},
              "mark": {"type": "rule", "x2Offset": -6},
              "encoding": {"y": {"field": "v", "type": "quantitative", "axis": null}, "x": {"datum": 8.9, "type": "quantitative", "axis": null}, "x2": {"datum": 8.9}}
            }
          ],
          "resolve": {"axis": {"x": "independent", "y": "independent"}}
        }
      ]
    },
    {
      "spacing": 72,
      "vconcat": [
        {
          "width": 125, "height": 44,
          "data": {"values": [{"h": 0}]},
          "mark": {"type": "point", "opacity": 0},
          "encoding": {"x": {"field": "h", "type": "quantitative", "axis": null}},
          "view": {"stroke": null}
        },
        {
          "width": 125, "height": 145,
          "title": {"text": "65K", "offset": 9},
          "layer": [
            {
              "data": {"name": "p65"},
              "mark": {"type": "line", "stroke": "#222", "strokeWidth": 1},
              "encoding": {
                "x": {"field": "h", "type": "quantitative", "scale": {"domain": [0, 40], "nice": false, "zero": false},
                      "axis": {"orient": "bottom", "values": [0, 10, 20, 30, 40], "tickSize": 7, "offset": -7, "labelPadding": 8, "labelFontSize": 15, "title": "H (T)", "titleFontSize": 18, "titlePadding": 2}},
                "y": {"field": "p", "type": "quantitative", "scale": {"domain": [0, 1], "nice": false, "zero": false},
                      "axis": {"orient": "left", "ticks": false, "labels": false, "title": "P(H)", "titleY": 31, "titlePadding": 10, "titleFontSize": 17}},
                "detail": {"field": "k", "type": "nominal"}
              }
            },
            {
              "data": {"name": "cr65"},
              "mark": {"type": "rule", "strokeWidth": 2.5, "color": "#111"},
              "encoding": {
                "x": {"field": "h", "type": "quantitative", "axis": null},
                "y": {"field": "p", "type": "quantitative", "axis": null},
                "y2": {"datum": 0}
              }
            },
            {
              "data": {"name": "lead65"},
              "mark": {"type": "line", "stroke": "#777", "strokeWidth": 1, "strokeDash": [1, 2]},
              "encoding": {
                "x": {"field": "h", "type": "quantitative", "axis": null},
                "y": {"field": "p", "type": "quantitative", "axis": null}
              }
            },
            {
              "data": {"name": "arrow65"},
              "mark": {"type": "point", "filled": true, "shape": "M0,-1L0.55,1L-0.55,1Z", "size": 160, "angle": 230, "color": "#111", "opacity": 1},
              "encoding": {
                "x": {"field": "h", "type": "quantitative", "axis": null},
                "y": {"field": "p", "type": "quantitative", "axis": null}
              }
            },
            {
              "data": {"name": "lab65"},
              "mark": {"type": "text", "fontSize": 17, "color": "#111", "align": "center", "baseline": "middle"},
              "encoding": {
                "x": {"field": "h", "type": "quantitative", "axis": null},
                "y": {"field": "p", "type": "quantitative", "axis": null},
                "text": {"field": "t", "type": "nominal"}
              }
            },
            {
              "data": {"name": "hmaj"},
              "mark": {"type": "rule", "y2Offset": 7},
              "encoding": {"x": {"field": "v", "type": "quantitative", "axis": null}, "y": {"datum": 1, "type": "quantitative", "axis": null}, "y2": {"datum": 1}}
            },
            {
              "data": {"name": "hmaj"},
              "mark": {"type": "rule", "y2Offset": -7},
              "encoding": {"x": {"field": "v", "type": "quantitative", "axis": null}, "y": {"datum": 0, "type": "quantitative", "axis": null}, "y2": {"datum": 0}}
            },
            {
              "data": {"name": "hmin"},
              "mark": {"type": "rule", "y2Offset": 4},
              "encoding": {"x": {"field": "v", "type": "quantitative", "axis": null}, "y": {"datum": 1, "type": "quantitative", "axis": null}, "y2": {"datum": 1}}
            },
            {
              "data": {"name": "hmin"},
              "mark": {"type": "rule", "y2Offset": -4},
              "encoding": {"x": {"field": "v", "type": "quantitative", "axis": null}, "y": {"datum": 0, "type": "quantitative", "axis": null}, "y2": {"datum": 0}}
            }
          ],
          "resolve": {"axis": {"x": "independent", "y": "independent"}}
        },
        {
          "width": 125, "height": 146,
          "title": {"text": "250K", "offset": 9},
          "layer": [
            {
              "data": {"name": "p250"},
              "mark": {"type": "line", "stroke": "#222", "strokeWidth": 1},
              "encoding": {
                "x": {"field": "h", "type": "quantitative", "scale": {"domain": [0, 40], "nice": false, "zero": false},
                      "axis": {"orient": "bottom", "values": [0, 10, 20, 30, 40], "tickSize": 7, "offset": -7, "labelPadding": 8, "labelFontSize": 15, "title": "H\u00a0 (T)", "titleFontSize": 18, "titlePadding": 2}},
                "y": {"field": "p", "type": "quantitative", "scale": {"domain": [0, 1], "nice": false, "zero": false},
                      "axis": {"orient": "left", "ticks": false, "labels": false, "title": "P(H)", "titleY": 23, "titlePadding": 10, "titleFontSize": 17}},
                "detail": {"field": "k", "type": "nominal"}
              }
            },
            {
              "data": {"name": "cr250"},
              "mark": {"type": "rule", "strokeWidth": 2.5, "color": "#111"},
              "encoding": {
                "x": {"field": "h", "type": "quantitative", "axis": null},
                "y": {"field": "p", "type": "quantitative", "axis": null},
                "y2": {"datum": 0}
              }
            },
            {
              "data": {"name": "arrow250"},
              "mark": {"type": "point", "filled": true, "shape": "M0,-1L0.55,1L-0.55,1Z", "size": 160, "angle": 236, "color": "#111", "opacity": 1},
              "encoding": {
                "x": {"field": "h", "type": "quantitative", "axis": null},
                "y": {"field": "p", "type": "quantitative", "axis": null}
              }
            },
            {
              "data": {"name": "lab250"},
              "mark": {"type": "text", "fontSize": 17, "color": "#111", "align": "center", "baseline": "middle"},
              "encoding": {
                "x": {"field": "h", "type": "quantitative", "axis": null},
                "y": {"field": "p", "type": "quantitative", "axis": null},
                "text": {"field": "t", "type": "nominal"}
              }
            },
            {
              "data": {"name": "hmaj"},
              "mark": {"type": "rule", "y2Offset": 7},
              "encoding": {"x": {"field": "v", "type": "quantitative", "axis": null}, "y": {"datum": 1, "type": "quantitative", "axis": null}, "y2": {"datum": 1}}
            },
            {
              "data": {"name": "hmaj"},
              "mark": {"type": "rule", "y2Offset": -7},
              "encoding": {"x": {"field": "v", "type": "quantitative", "axis": null}, "y": {"datum": 0, "type": "quantitative", "axis": null}, "y2": {"datum": 0}}
            },
            {
              "data": {"name": "hmin"},
              "mark": {"type": "rule", "y2Offset": 4},
              "encoding": {"x": {"field": "v", "type": "quantitative", "axis": null}, "y": {"datum": 1, "type": "quantitative", "axis": null}, "y2": {"datum": 1}}
            },
            {
              "data": {"name": "hmin"},
              "mark": {"type": "rule", "y2Offset": -4},
              "encoding": {"x": {"field": "v", "type": "quantitative", "axis": null}, "y": {"datum": 0, "type": "quantitative", "axis": null}, "y2": {"datum": 0}}
            }
          ],
          "resolve": {"axis": {"x": "independent", "y": "independent"}}
        }
      ]
    }
  ],
  "spacing": 14
}
